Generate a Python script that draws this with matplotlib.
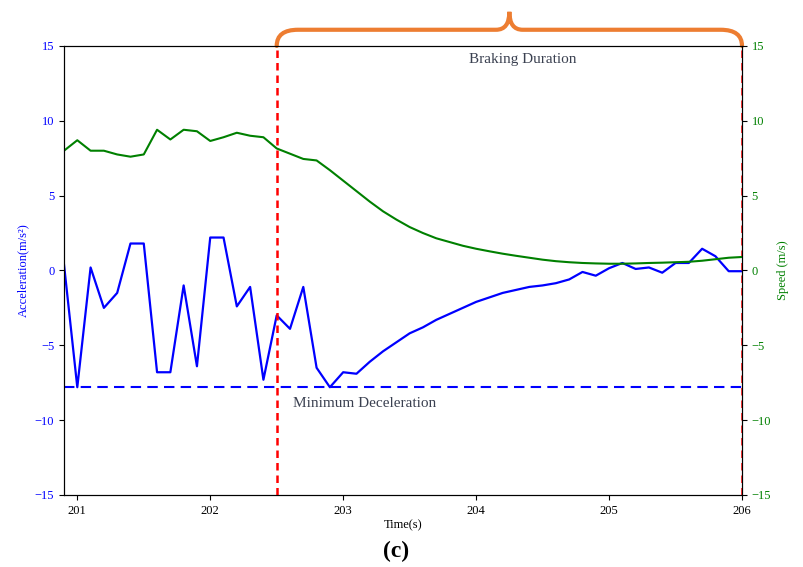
import matplotlib
matplotlib.use("Agg")
import matplotlib.pyplot as plt
import matplotlib.transforms as mtransforms
from matplotlib.path import Path
from matplotlib.patches import PathPatch
import numpy as np

plt.rcParams["font.family"] = ["Liberation Serif", "DejaVu Serif"]

time = [200.9 + 0.1 * i for i in range(52)]
accel = [0.4, -7.8, 0.2, -2.5, -1.5, 1.8, 1.8, -6.8, -6.8, -1.0,
         -6.4, 2.2, 2.2, -2.4, -1.1, -7.3, -3.0, -3.9, -1.1, -6.5,
         -7.8, -6.8, -6.9, -6.1, -5.4, -4.8, -4.2, -3.8, -3.3, -2.9,
         -2.5, -2.1, -1.8, -1.5, -1.3, -1.1, -1.0, -0.85, -0.6, -0.1,
         -0.35, 0.15, 0.5, 0.1, 0.2, -0.15, 0.5, 0.5, 1.45, 0.95,
         -0.05, -0.05]
speed = [8.0, 8.7, 8.0, 8.0, 7.75, 7.6, 7.75, 9.4, 8.75, 9.4,
         9.3, 8.65, 8.9, 9.2, 9.0, 8.9, 8.15, 7.8, 7.45, 7.35,
         6.7, 6.0, 5.3, 4.6, 3.95, 3.4, 2.9, 2.5, 2.15, 1.9,
         1.65, 1.45, 1.28, 1.12, 0.98, 0.85, 0.72, 0.62, 0.55, 0.5,
         0.47, 0.45, 0.45, 0.47, 0.5, 0.52, 0.55, 0.58, 0.65, 0.75,
         0.85, 0.9]
min_decel = -7.8
brake_start, brake_end = 202.5, 206.0
xticks = [201, 202, 203, 204, 205, 206]
yticks = [-15, -10, -5, 0, 5, 10, 15]

fig = plt.figure(figsize=(8.04, 5.67), dpi=100)
ax = fig.add_axes([0.0796, 0.127, 0.8433, 0.792])
ax2 = ax.twinx()

ax.plot(time, accel, color="blue", lw=1.6)
ax.axhline(min_decel, color="blue", ls="--", lw=1.5, dashes=(5, 3))
ax2.plot(time, speed, color="green", lw=1.5)

for xv in (brake_start, brake_end):
    ax.axvline(xv, color="red", ls="--", lw=1.8, dashes=(3, 2), zorder=5)

ax.set_xlim(200.9, 206.0)
ax.set_ylim(-15, 15)
ax2.set_ylim(-15, 15)
ax.set_xticks(xticks)
ax.set_yticks(yticks)
ax2.set_yticks(yticks)
ax.tick_params(axis="x", labelsize=9)
ax.tick_params(axis="y", labelsize=9, labelcolor="blue")
ax2.tick_params(axis="y", labelsize=9, labelcolor="green")

ax.set_xlabel("Time(s)", fontsize=9, labelpad=2)
ax.set_ylabel("Acceleration(m/s²)", fontsize=9, color="blue")
ax2.set_ylabel("Speed (m/s)", fontsize=9, color="green")

ax.text(204.35, 14.1, "Braking Duration", fontsize=11, color="#3a4050",
        ha="center", va="center")
ax.text(202.62, -8.9, "Minimum Deceleration", fontsize=11, color="#3a4050",
        ha="left", va="center")

# curly brace over the braking window
trans = mtransforms.blended_transform_factory(ax.transData, ax.transAxes)
mid = (brake_start + brake_end) / 2
r, c = 0.16, 0.1
y0, y1, y2 = 1.0, 1.036, 1.076
verts = [(brake_start, y0), (brake_start, y1), (brake_start + r, y1),
         (mid - c, y1),
         (mid, y1), (mid, y2),
         (mid, y1), (mid + c, y1),
         (brake_end - r, y1),
         (brake_end, y1), (brake_end, y0)]
codes = [Path.MOVETO, Path.CURVE3, Path.CURVE3,
         Path.LINETO,
         Path.CURVE3, Path.CURVE3,
         Path.CURVE3, Path.CURVE3,
         Path.LINETO,
         Path.CURVE3, Path.CURVE3]
brace = PathPatch(Path(verts, codes), transform=trans, fill=False,
                  edgecolor="#ED7D31", lw=3, clip_on=False, capstyle="round")
ax.add_patch(brace)

fig.text(0.4925, 0.028, "(c)", fontsize=17, fontweight="bold",
         ha="center", va="center")

fig.savefig("out.png", dpi=100)
